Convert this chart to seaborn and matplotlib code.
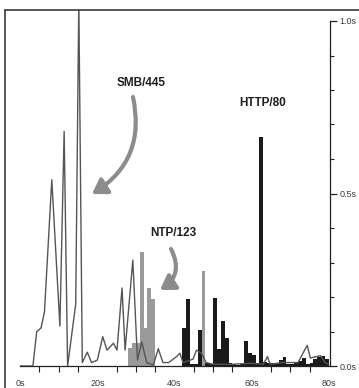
import numpy as np
import pandas as pd
import seaborn as sns
import matplotlib
matplotlib.use("Agg")
import matplotlib.pyplot as plt
from matplotlib.ticker import MultipleLocator, FixedLocator, FuncFormatter
from matplotlib.lines import Line2D

# SMB/445 response time trace (seconds)
smb_t = [0, 3.3, 4.3, 5.4, 6.3, 8.2, 10.3, 11.4, 12.3, 14.4, 15.2, 16.1, 17.4,
         18.5, 20.0, 21.4, 22.5, 24.2, 25.1, 26.4, 27.2, 29.2, 30.4, 31.5, 32.8,
         34.5, 35.8, 37.0, 38.5, 40.5, 41.4, 42.2, 44.8, 45.7, 47.0, 48.2, 50.0,
         55.0, 60.0, 63.0, 64.1, 64.8, 68.0, 72.0, 74.4, 75.2, 77.8, 79.0, 80.0]
smb_v = [0, 0, 0.10, 0.11, 0.157, 0.54, 0.116, 0.68, 0.0, 0.18, 1.06, 0.01, 0.04,
         0.01, 0.017, 0.085, 0.046, 0.066, 0.046, 0.226, 0.046, 0.307, 0.017, 0.07, 0.01,
         0.003, 0.05, 0.01, 0.01, 0.027, 0.037, 0.01, 0.02, 0.046, 0.037, 0.01, 0.005,
         0.005, 0.008, 0.005, 0.027, 0.005, 0.01, 0.01, 0.06, 0.023, 0.03, 0.01, 0.005]

# NTP/123 per-second bars
ntp_t = [28, 29, 30, 31, 32, 33, 34, 47]
ntp_v = [0.051, 0.066, 0.066, 0.331, 0.109, 0.225, 0.193, 0.276]

# HTTP/80 per-second bars
http_t = [42, 43, 44, 45, 46, 48, 49, 50, 51, 52, 53, 54, 55, 56, 57, 58, 59, 60,
          61, 62, 63, 64, 65, 66, 67, 68, 69, 70, 71, 72, 73, 74, 75, 76, 77, 78, 79]
http_v = [0.109, 0.194, 0.005, 0.005, 0.104, 0.01, 0.005, 0.198, 0.048, 0.131, 0.080,
          0.01, 0.005, 0.003, 0.005, 0.072, 0.037, 0.032, 0.01, 0.665, 0.012, 0.01,
          0.01, 0.01, 0.017, 0.027, 0.005, 0.005, 0.01, 0.015, 0.022, 0.005, 0.01,
          0.02, 0.027, 0.03, 0.02]

x_major = [0, 20, 40, 60, 80]
y_major = [0.0, 0.5, 1.0]

sns.set_theme(style="white")
plt.rcParams["font.family"] = ["Liberation Sans", "DejaVu Sans"]

W, H = 359, 388
fig = plt.figure(figsize=(W / 100, H / 100), dpi=100)
ax = fig.add_axes([19 / W, 22 / H, 311 / W, 356 / H])

ntp = pd.DataFrame({"t": ntp_t, "v": ntp_v})
http = pd.DataFrame({"t": http_t, "v": http_v})
sns.histplot(data=ntp, x="t", weights="v", binwidth=1, binrange=(28, 48),
             stat="count", color="#9a9a9a", alpha=1, linewidth=0, ax=ax)
sns.histplot(data=http, x="t", weights="v", binwidth=1, binrange=(42, 80),
             stat="count", color="#1a1a1a", alpha=1, linewidth=0, ax=ax)

trace = pd.DataFrame({"t": smb_t, "v": smb_v})
sns.lineplot(data=trace, x="t", y="v", color="#555555", linewidth=1.0, ax=ax,
             zorder=3)

ax.set_xlim(-0.3, 80.3)
ax.set_ylim(0, 356 / 345)
ax.set_xlabel("")
ax.set_ylabel("")

for side in ("left", "top"):
    ax.spines[side].set_visible(False)
ax.spines["bottom"].set_bounds(0, 80)
ax.spines["right"].set_bounds(0, 1.0)
for side in ("bottom", "right"):
    ax.spines[side].set_color("#222222")
    ax.spines[side].set_linewidth(0.9)

ax.yaxis.tick_right()
ax.xaxis.set_major_locator(FixedLocator(x_major))
ax.xaxis.set_minor_locator(MultipleLocator(5))
ax.yaxis.set_major_locator(FixedLocator(y_major))
ax.yaxis.set_minor_locator(MultipleLocator(0.1))
ax.xaxis.set_major_formatter(FuncFormatter(lambda v, p: f"{v:.0f}s"))
ax.yaxis.set_major_formatter(FuncFormatter(lambda v, p: f"{v:.1f}s"))
ax.tick_params(axis="x", which="major", direction="out", length=6, width=0.9,
               color="#222222", labelsize=6.5, labelcolor="#3a3a3a", pad=3)
ax.tick_params(axis="x", which="minor", direction="out", length=4, width=0.8,
               color="#222222", bottom=True)
ax.tick_params(axis="y", which="major", direction="out", length=5, width=0.9,
               color="#222222", labelsize=6.5, labelcolor="#3a3a3a", pad=2,
               right=True, left=False)
ax.tick_params(axis="y", which="minor", direction="out", length=3, width=0.8,
               color="#222222", right=True, left=False)

# frame lines along the top and left
fig.add_artist(Line2D([5 / W, 5 / W], [0, (H - 10) / H], transform=fig.transFigure,
                      color="#2a2a2a", linewidth=1.1))
fig.add_artist(Line2D([5 / W, 1], [(H - 10) / H, (H - 10) / H], transform=fig.transFigure,
                      color="#2a2a2a", linewidth=1.1))

# labels and arrows
label_kw = dict(xycoords="figure pixels", fontsize=8.5, fontweight="bold",
                color="#1e1e1e", ha="center", va="center")
ax.annotate("SMB/445", xy=(141, H - 83), **label_kw)
ax.annotate("HTTP/80", xy=(263, H - 103), **label_kw)
ax.annotate("NTP/123", xy=(173, H - 233), **label_kw)

arrow_kw = dict(arrowstyle="-|>,head_length=0.7,head_width=0.45", color="#8c8c8c",
                lw=3.0, shrinkA=0, shrinkB=0)
ax.annotate("", xy=(92, H - 194), xytext=(133, H - 97), xycoords="figure pixels",
            textcoords="figure pixels",
            arrowprops=dict(connectionstyle="arc3,rad=-0.35", **arrow_kw))
ax.annotate("", xy=(160, H - 290), xytext=(171, H - 249), xycoords="figure pixels",
            textcoords="figure pixels",
            arrowprops=dict(connectionstyle="arc3,rad=-0.45", **arrow_kw))

fig.savefig("out.png", dpi=100, facecolor="white")
